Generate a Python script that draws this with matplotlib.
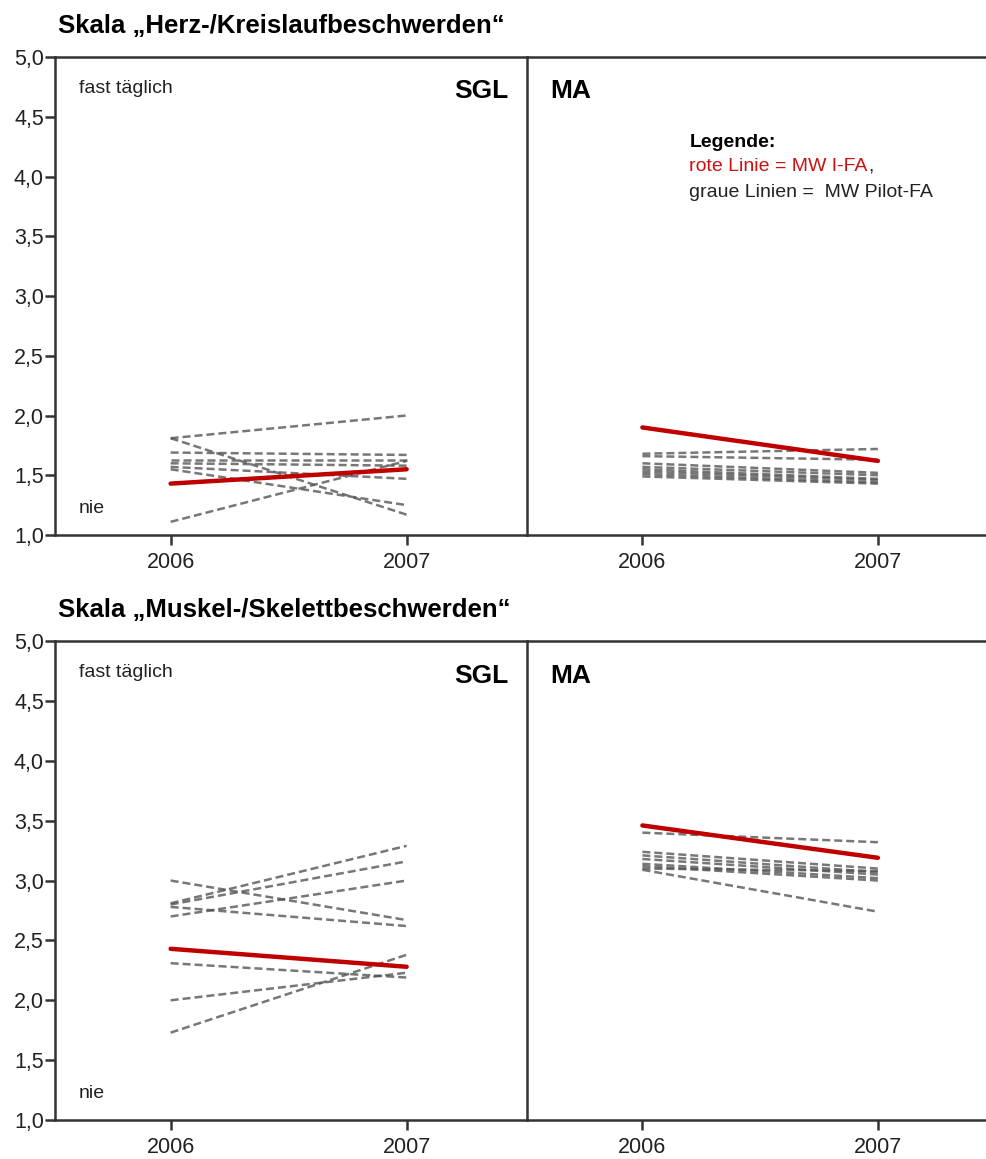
import matplotlib.pyplot as plt

plt.rcParams['font.family'] = ['Liberation Sans', 'DejaVu Sans']

years = ['2006', '2007']

# Herz-/Kreislaufbeschwerden
herz_sgl_red = [1.43, 1.55]
herz_sgl_grey = [[1.81, 2.00], [1.81, 1.17], [1.69, 1.67], [1.63, 1.63],
                 [1.60, 1.58], [1.57, 1.47], [1.55, 1.25], [1.11, 1.62]]
herz_ma_red = [1.90, 1.62]
herz_ma_grey = [[1.68, 1.72], [1.66, 1.63], [1.60, 1.52], [1.57, 1.50],
                [1.55, 1.47], [1.53, 1.46], [1.51, 1.44], [1.49, 1.43]]

# Muskel-/Skelettbeschwerden
musk_sgl_red = [2.43, 2.28]
musk_sgl_grey = [[3.00, 2.67], [2.81, 3.29], [2.80, 3.16], [2.70, 3.00],
                 [2.78, 2.62], [2.31, 2.19], [2.00, 2.23], [1.73, 2.38]]
musk_ma_red = [3.46, 3.19]
musk_ma_grey = [[3.40, 3.32], [3.24, 3.10], [3.21, 3.07], [3.18, 3.05],
                [3.14, 3.02], [3.12, 3.00], [3.10, 3.08], [3.09, 2.74]]

yticks = [1.0, 1.5, 2.0, 2.5, 3.0, 3.5, 4.0, 4.5, 5.0]
ytick_labels = [('%.1f' % v).replace('.', ',') for v in yticks]

titles = ['Skala \u201eHerz-/Kreislaufbeschwerden\u201c',
          'Skala \u201eMuskel-/Skelettbeschwerden\u201c']

W, H = 987, 1159
fig = plt.figure(figsize=(W / 100, H / 100), dpi=100, facecolor='white')

spine_col = '#333333'
red = '#c00000'
grey = '#555555'


def panel(rect, red_vals, grey_vals, first):
    ax = fig.add_axes(rect)
    ax.set_facecolor('none')
    x = [0, 1]
    for g in grey_vals:
        ax.plot(x, g, color=grey, lw=1.8, ls=(0, (3.2, 1.6)), alpha=0.8, zorder=2)
    ax.plot(x, red_vals, color=red, lw=3.2, solid_capstyle='round', zorder=3)
    ax.set_xlim(-0.49, 1.51)
    ax.set_ylim(1.0, 5.0)
    ax.set_xticks(x)
    ax.set_xticklabels(years, fontsize=15.5, color='#222222')
    for s in ax.spines.values():
        s.set_color(spine_col)
        s.set_linewidth(1.8)
    ax.tick_params(axis='x', length=7, width=1.8, color=spine_col, pad=5)
    if first:
        ax.set_yticks(yticks)
        ax.set_yticklabels(ytick_labels, fontsize=15.5, color='#222222')
        ax.tick_params(axis='y', length=7, width=1.8, color=spine_col, pad=1)
    else:
        ax.spines['left'].set_visible(False)
        ax.set_yticks([])
    return ax


charts = [
    (0.5384, 0.4124, herz_sgl_red, herz_sgl_grey, herz_ma_red, herz_ma_grey),
    (0.0336, 0.4133, musk_sgl_red, musk_sgl_grey, musk_ma_red, musk_ma_grey),
]

x0 = 55 / W
xmid = 527 / W
xend = 998 / W
for i, (b, h, sr, sg, mr, mg) in enumerate(charts):
    axl = panel([x0, b, xmid - x0, h], sr, sg, True)
    axr = panel([xmid, b, xend - xmid, h], mr, mg, False)
    axl.text(0.05, 0.935, 'fast t\u00e4glich', transform=axl.transAxes,
             fontsize=14, va='center', ha='left', color='#222222')
    axl.text(0.05, 0.056, 'nie', transform=axl.transAxes,
             fontsize=14, va='center', ha='left', color='#222222')
    axl.text(0.96, 0.928, 'SGL', transform=axl.transAxes,
             fontsize=19, fontweight='bold', va='center', ha='right')
    axr.text(0.05, 0.928, 'MA', transform=axr.transAxes,
             fontsize=19, fontweight='bold', va='center', ha='left')
    fig.text(58 / W, b + h + 31 / H, titles[i], fontsize=18.5, fontweight='bold',
             ha='left', va='center')
    if i == 0:
        axr.text(0.345, 0.822, 'Legende:', transform=axr.transAxes,
                 fontsize=14, fontweight='bold', va='center', ha='left')
        red_txt = axr.text(0.345, 0.770, 'rote Linie = MW I-FA', transform=axr.transAxes,
                           fontsize=14, color='#cc1111', va='center', ha='left')
        axr.annotate(',', xy=(1, 0.5), xycoords=red_txt, fontsize=14,
                     color='#222222', va='center', ha='left')
        axr.text(0.345, 0.717, 'graue Linien =  MW Pilot-FA', transform=axr.transAxes,
                 fontsize=14, color='#222222', va='center', ha='left')

fig.savefig('out.png', dpi=100)
